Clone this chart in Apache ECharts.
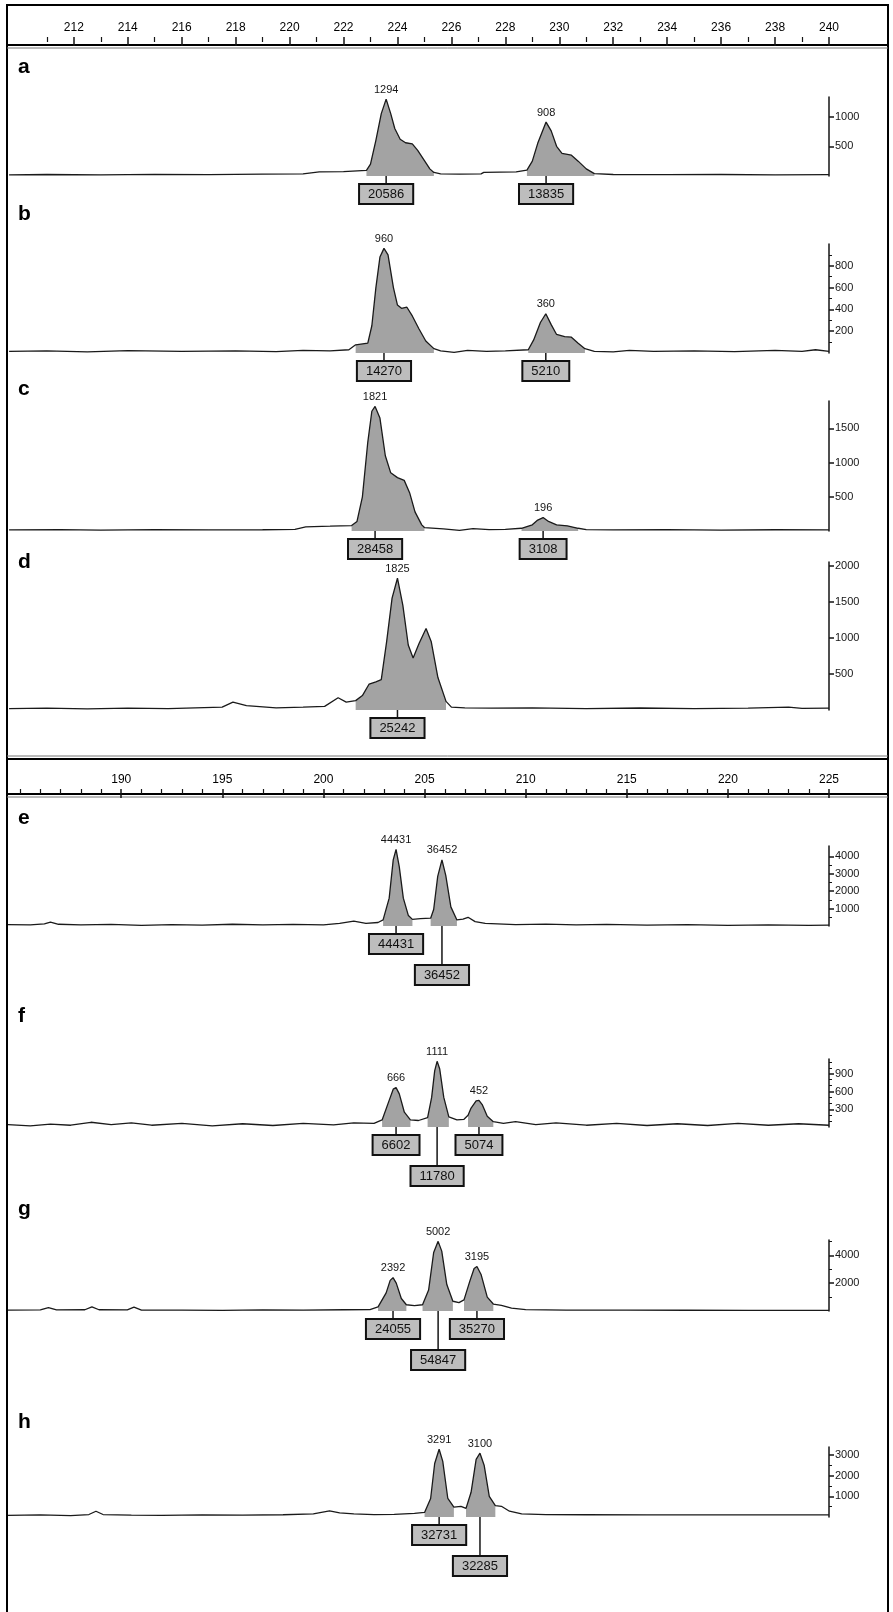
<!DOCTYPE html>
<html>
<head>
<meta charset="utf-8">
<script src="https://cdn.jsdelivr.net/npm/echarts@6/dist/echarts.min.js"></script>
<style>
  html, body { margin: 0; padding: 0; background: #fff; }
  #chart { width: 893px; height: 1612px; }
</style>
</head>
<body>
<div id="chart"></div>
<script>
// ruler ticks (size in bp)
const rulerTopLabels = [212, 214, 216, 218, 220, 222, 224, 226, 228, 230, 232, 234, 236, 238, 240];
const rulerTopMinor = [211, 213, 215, 217, 219, 221, 223, 225, 227, 229, 231, 233, 235, 237, 239];
const rulerBottomLabels = [190, 195, 200, 205, 210, 215, 220, 225];
const rulerBottomMinor = [185, 186, 187, 188, 189, 191, 192, 193, 194, 196, 197, 198, 199, 201, 202, 203, 204,
  206, 207, 208, 209, 211, 212, 213, 214, 216, 217, 218, 219, 221, 222, 223, 224];
const sectionRange = [[209.56, 240], [184.4, 225]];

// panel a
const traceA = [[209.6, 20], [211, 25], [213, 20], [215, 28], [217, 22], [219, 30], [220.5, 35], [221.1, 70], [222, 75],
  [222.85, 95], [223.0, 200], [223.2, 600], [223.4, 1050], [223.58, 1294], [223.75, 1050], [223.9, 800], [224.1, 620],
  [224.3, 560], [224.55, 540], [224.75, 430], [225.0, 260], [225.2, 120], [225.35, 60], [225.6, 35], [226.3, 30],
  [227.1, 35], [227.2, 60], [228.4, 70], [228.8, 100], [229.0, 250], [229.2, 550], [229.51, 908], [229.7, 760],
  [229.9, 500], [230.1, 380], [230.45, 350], [230.7, 250], [231.0, 120], [231.3, 40], [232, 25], [234, 22], [236, 25],
  [238, 20], [240, 22]];
const regionsA = [[222.85, 225.35], [228.8, 231.3]];
const peaksA = [[223.58, 1294, '1294'], [229.51, 908, '908']];
const boxesA = [[223.58, '20586', 0], [229.51, '13835', 0]];
const yMajorA = [500, 1000];
const yMinorA = [];

// panel b
const traceB = [[209.6, 15], [211, 20], [212.5, 10], [214, 22], [216, 15], [218, 20], [219.5, 12], [220.5, 25], [221.5, 20],
  [222.2, 30], [222.45, 75], [222.9, 90], [223.05, 250], [223.2, 600], [223.35, 880], [223.5, 960], [223.65, 900],
  [223.85, 600], [224.0, 440], [224.15, 410], [224.35, 420], [224.55, 340], [224.8, 220], [225.05, 110], [225.35, 40],
  [225.6, 20], [226.1, 5], [226.6, 25], [227.3, 15], [228.0, 20], [228.85, 30], [229.05, 120], [229.3, 280], [229.5, 360],
  [229.7, 260], [229.9, 170], [230.2, 150], [230.45, 145], [230.7, 90], [230.95, 40], [231.3, 15], [232, 10],
  [232.6, 25], [233.5, 15], [235, 20], [236.5, 12], [238, 25], [239, 15], [239.5, 30], [240, 15]];
const regionsB = [[222.45, 225.35], [228.85, 230.95]];
const peaksB = [[223.5, 960, '960'], [229.5, 360, '360']];
const boxesB = [[223.5, '14270', 0], [229.5, '5210', 0]];
const yMajorB = [200, 400, 600, 800];
const yMinorB = [100, 300, 500, 700, 900];

// panel c
const traceC = [[209.6, 15], [211.5, 20], [213, 12], [215, 20], [217, 15], [219, 18], [220.2, 25], [220.6, 60], [221.5, 70],
  [222.3, 80], [222.5, 140], [222.7, 500], [222.9, 1300], [223.05, 1750], [223.17, 1821], [223.35, 1650], [223.55, 1100],
  [223.75, 850], [224.0, 780], [224.25, 740], [224.45, 560], [224.65, 280], [224.9, 90], [225.0, 50], [225.7, 30],
  [226.3, 10], [226.8, 35], [227.4, 20], [228.0, 25], [228.6, 40], [229.0, 90], [229.2, 160], [229.4, 196],
  [229.6, 140], [229.9, 90], [230.3, 75], [230.7, 40], [231.0, 20], [232, 15], [234, 20], [236, 12], [238, 18], [240, 15]];
const regionsC = [[222.3, 225.0], [228.6, 230.7]];
const peaksC = [[223.17, 1821, '1821'], [229.4, 196, '196']];
const boxesC = [[223.17, '28458', 0], [229.4, '3108', 0]];
const yMajorC = [500, 1000, 1500];
const yMinorC = [];

// panel d
const traceD = [[209.6, 20], [211, 25], [212.5, 15], [214, 25], [215.5, 20], [217.5, 40], [217.9, 110], [218.4, 60],
  [219.5, 30], [220.5, 40], [221.3, 50], [221.8, 170], [222.1, 110], [222.45, 130], [222.7, 200], [222.95, 360],
  [223.2, 390], [223.4, 420], [223.6, 950], [223.8, 1550], [224.0, 1825], [224.2, 1450], [224.4, 900], [224.58, 720],
  [224.8, 920], [225.06, 1130], [225.25, 950], [225.5, 450], [225.8, 120], [226.0, 40], [226.5, 30], [227.5, 25],
  [229, 30], [231, 20], [233, 28], [235, 20], [237, 25], [238.5, 40], [239, 22], [240, 25]];
const regionsD = [[222.45, 225.8]];
const peaksD = [[224.0, 1825, '1825']];
const boxesD = [[224.0, '25242', 0]];
const yMajorD = [500, 1000, 1500, 2000];
const yMinorD = [];

// panel e
const traceE = [[184.4, 80], [185.5, 60], [186.2, 120], [186.5, 220], [186.9, 100], [188, 60], [189.5, 90], [191, 40],
  [192.5, 80], [194, 50], [195.5, 100], [197, 60], [198.5, 90], [200, 70], [200.8, 150], [201.5, 280], [202.1, 150],
  [202.7, 200], [202.95, 350], [203.25, 1600], [203.45, 3800], [203.59, 4400], [203.75, 3400], [203.95, 1600],
  [204.2, 600], [204.4, 380], [204.8, 420], [205.3, 450], [205.45, 950], [205.65, 2850], [205.86, 3800], [206.05, 2900],
  [206.3, 1100], [206.6, 350], [206.9, 400], [207.15, 500], [207.5, 250], [208, 150], [209.5, 80], [211, 110],
  [212.5, 60], [214, 90], [216, 50], [218, 80], [220, 40], [222, 60], [224, 40], [225, 50]];
const regionsE = [[202.95, 204.4], [205.3, 206.6]];
const peaksE = [[203.59, 4400, '44431'], [205.86, 3800, '36452']];
const boxesE = [[203.59, '44431', 0], [205.86, '36452', 1]];
const yMajorE = [1000, 2000, 3000, 4000];
const yMinorE = [500, 1500, 2500, 3500];

// panel f
const traceF = [[184.4, 40], [185.5, 20], [186.5, 50], [187.5, 30], [188.5, 80], [189.5, 40], [190.5, 70], [191.5, 30],
  [193, 60], [194.5, 20], [196, 55], [197.5, 25], [199, 60], [200.5, 35], [201.5, 70], [202.5, 60], [202.9, 120],
  [203.25, 450], [203.45, 640], [203.59, 666], [203.75, 560], [204.0, 250], [204.3, 120], [204.7, 110], [205.15, 160],
  [205.35, 500], [205.5, 950], [205.62, 1111], [205.75, 980], [205.95, 500], [206.2, 170], [206.6, 120], [206.95, 130],
  [207.15, 200], [207.3, 320], [207.55, 440], [207.69, 452], [207.85, 380], [208.1, 180], [208.4, 90], [208.9, 60],
  [209.5, 90], [210.5, 40], [211.5, 70], [213, 30], [214.5, 60], [216, 25], [217.5, 55], [219, 25], [220.5, 60],
  [222, 30], [223.5, 55], [225, 30]];
const regionsF = [[202.9, 204.3], [205.15, 206.2], [207.15, 208.4]];
const peaksF = [[203.59, 666, '666'], [205.62, 1111, '1111'], [207.69, 452, '452']];
const boxesF = [[203.59, '6602', 0], [205.62, '11780', 1], [207.69, '5074', 0]];
const yMajorF = [300, 600, 900];
const yMinorF = [100, 200, 400, 500, 700, 800, 1000, 1100];

// panel g
const traceG = [[184.4, 60], [186, 80], [186.4, 250], [186.8, 80], [188.2, 90], [188.55, 300], [188.9, 90], [190.3, 80],
  [190.63, 280], [191, 70], [193, 60], [195, 50], [197, 80], [199, 60], [201, 90], [202.3, 100], [202.7, 300],
  [203.1, 1300], [203.3, 2200], [203.44, 2392], [203.6, 2000], [203.85, 900], [204.1, 450], [204.5, 380], [204.9, 450],
  [205.2, 1500], [205.45, 4200], [205.67, 5002], [205.85, 4300], [206.1, 1900], [206.4, 700], [206.7, 600], [206.95, 800],
  [207.25, 2200], [207.45, 3050], [207.59, 3195], [207.8, 2600], [208.1, 1000], [208.4, 500], [208.8, 400], [209.3, 200],
  [210, 100], [212, 60], [215, 60], [218, 55], [221, 50], [225, 50]];
const regionsG = [[202.7, 204.1], [204.9, 206.4], [206.95, 208.4]];
const peaksG = [[203.44, 2392, '2392'], [205.67, 5002, '5002'], [207.59, 3195, '3195']];
const boxesG = [[203.44, '24055', 0], [205.67, '54847', 1], [207.59, '35270', 0]];
const yMajorG = [2000, 4000];
const yMinorG = [1000, 3000, 5000];

// panel h
const traceH = [[184.4, 80], [186, 100], [187.5, 70], [188.4, 120], [188.75, 280], [189.1, 120], [190.5, 90], [192, 80],
  [194, 100], [196, 90], [198, 110], [199.5, 150], [200.3, 300], [200.8, 200], [201.5, 150], [202.5, 120], [203.5, 130],
  [204.5, 180], [205.0, 220], [205.3, 900], [205.5, 2600], [205.72, 3291], [205.9, 2700], [206.15, 900], [206.45, 480],
  [206.8, 520], [207.05, 420], [207.3, 1200], [207.55, 2800], [207.74, 3100], [207.95, 2500], [208.2, 1000], [208.5, 550],
  [208.8, 520], [209.2, 280], [209.8, 150], [211, 120], [213, 110], [216, 100], [220, 100], [225, 100]];
const regionsH = [[205.0, 206.45], [207.05, 208.5]];
const peaksH = [[205.72, 3291, '3291'], [207.74, 3100, '3100']];
const boxesH = [[205.72, '32731', 0], [207.74, '32285', 1]];
const yMajorH = [1000, 2000, 3000];
const yMinorH = [500, 1500, 2500];

const panels = [
  { name: 'a', section: 0, top: 97, bottom: 176, max: 1330, letterY: 68, trace: traceA, regions: regionsA, peaks: peaksA, boxes: boxesA, yMajor: yMajorA, yMinor: yMinorA },
  { name: 'b', section: 0, top: 244, bottom: 353, max: 1000, letterY: 215, trace: traceB, regions: regionsB, peaks: peaksB, boxes: boxesB, yMajor: yMajorB, yMinor: yMinorB },
  { name: 'c', section: 0, top: 401, bottom: 531, max: 1900, letterY: 390, trace: traceC, regions: regionsC, peaks: peaksC, boxes: boxesC, yMajor: yMajorC, yMinor: yMinorC },
  { name: 'd', section: 0, top: 562, bottom: 710, max: 2050, letterY: 563, trace: traceD, regions: regionsD, peaks: peaksD, boxes: boxesD, yMajor: yMajorD, yMinor: yMinorD },
  { name: 'e', section: 1, top: 846, bottom: 926, max: 4600, letterY: 819, trace: traceE, regions: regionsE, peaks: peaksE, boxes: boxesE, yMajor: yMajorE, yMinor: yMinorE },
  { name: 'f', section: 1, top: 1059, bottom: 1127, max: 1150, letterY: 1017, trace: traceF, regions: regionsF, peaks: peaksF, boxes: boxesF, yMajor: yMajorF, yMinor: yMinorF },
  { name: 'g', section: 1, top: 1240, bottom: 1311, max: 5100, letterY: 1210, trace: traceG, regions: regionsG, peaks: peaksG, boxes: boxesG, yMajor: yMajorG, yMinor: yMinorG },
  { name: 'h', section: 1, top: 1447, bottom: 1517, max: 3400, letterY: 1423, trace: traceH, regions: regionsH, peaks: peaksH, boxes: boxesH, yMajor: yMajorH, yMinor: yMinorH }
];

const FONT = '"Liberation Sans", Arial, sans-serif';
const INK = '#151515';
const grids = [], xAxes = [], yAxes = [], series = [], graphics = [];
const plain = v => String(v);

// one grid per axis pair; minor ticks get their own overlapping grid,
// otherwise echarts flips a second axis on the same side to the other side
function addGrid(top, height) {
  grids.push({ left: 8, right: 64, top: top, height: height, show: false });
  return grids.length - 1;
}

function addRuler(sec, top, labels, minor) {
  const [min, max] = sectionRange[sec];
  let gi = addGrid(top, 30);
  xAxes.push({
    gridIndex: gi, type: 'value', position: 'top', min, max,
    axisLine: { show: false },
    axisTick: { show: true, inside: true, length: 9, customValues: labels, lineStyle: { color: INK, width: 1.5 } },
    axisLabel: { show: true, inside: true, margin: 15, customValues: labels, formatter: plain, fontSize: 12, color: '#000', fontFamily: FONT },
    splitLine: { show: false }
  });
  yAxes.push({ gridIndex: gi, type: 'value', show: false, min: 0, max: 1 });
  gi = addGrid(top, 30);
  xAxes.push({
    gridIndex: gi, type: 'value', position: 'top', min, max,
    axisLine: { show: false },
    axisTick: { show: true, inside: true, length: 5, customValues: minor, lineStyle: { color: INK, width: 1.2 } },
    axisLabel: { show: false },
    splitLine: { show: false }
  });
  yAxes.push({ gridIndex: gi, type: 'value', show: false, min: 0, max: 1 });
}

addRuler(0, 7, rulerTopLabels, rulerTopMinor);
addRuler(1, 759, rulerBottomLabels, rulerBottomMinor);

panels.forEach(p => {
  const [min, max] = sectionRange[p.section];
  const h = p.bottom - p.top;

  // minor ticks only
  if (p.yMinor.length) {
    const mg = addGrid(p.top, h);
    xAxes.push({ gridIndex: mg, type: 'value', min, max, show: false });
    yAxes.push({
      gridIndex: mg, type: 'value', position: 'right', min: 0, max: p.max,
      axisLine: { show: false },
      axisTick: { show: true, length: 3, customValues: p.yMinor, lineStyle: { color: INK, width: 1 } },
      axisLabel: { show: false },
      splitLine: { show: false }
    });
  }

  const gi = addGrid(p.top, h);
  const xi = xAxes.length;
  xAxes.push({ gridIndex: gi, type: 'value', min, max, show: false });
  const yi = yAxes.length;
  yAxes.push({
    gridIndex: gi, type: 'value', position: 'right', min: 0, max: p.max,
    axisLine: { show: true, lineStyle: { color: INK, width: 1.5 } },
    axisTick: { show: true, length: 5, customValues: p.yMajor, lineStyle: { color: INK, width: 1.5 } },
    axisLabel: { show: true, margin: 6, customValues: p.yMajor, formatter: plain, fontSize: 11, color: INK, fontFamily: FONT },
    splitLine: { show: false }
  });

  // called peak areas, grey fill
  p.regions.forEach(r => {
    series.push({
      type: 'line', xAxisIndex: xi, yAxisIndex: yi, symbol: 'none', silent: true, z: 2,
      data: p.trace.filter(d => d[0] >= r[0] && d[0] <= r[1]),
      lineStyle: { width: 0 },
      areaStyle: { color: '#a3a3a3', opacity: 1 }
    });
  });

  // the trace itself
  series.push({
    type: 'line', xAxisIndex: xi, yAxisIndex: yi, symbol: 'none', silent: true, z: 3,
    data: p.trace,
    lineStyle: { color: '#1a1a1a', width: 1.3 }
  });

  // peak height labels
  series.push({
    type: 'custom', xAxisIndex: xi, yAxisIndex: yi, silent: true, z: 5,
    data: p.peaks.map(k => [k[0], k[1]]),
    renderItem: (params, api) => {
      const k = p.peaks[params.dataIndex];
      const pt = api.coord([k[0], k[1]]);
      return {
        type: 'text', x: pt[0], y: pt[1] - 4,
        style: { text: k[2], align: 'center', verticalAlign: 'bottom', fontSize: 11, fontFamily: FONT, fill: INK }
      };
    }
  });

  // boxed area values under the peaks
  series.push({
    type: 'custom', xAxisIndex: xi, yAxisIndex: yi, silent: true, z: 6,
    data: p.boxes.map(b => [b[0], 0]),
    renderItem: (params, api) => {
      const b = p.boxes[params.dataIndex];
      const pt = api.coord([b[0], 0]);
      const drop = b[2] ? 40 : 9;
      return {
        type: 'group',
        children: [
          { type: 'line', shape: { x1: pt[0], y1: pt[1], x2: pt[0], y2: pt[1] + drop }, style: { stroke: INK, lineWidth: 1.5 } },
          {
            type: 'text', x: pt[0], y: pt[1] + drop,
            style: {
              text: b[1], align: 'center', verticalAlign: 'top', fontSize: 13, fontFamily: FONT, fill: '#111',
              backgroundColor: '#bdbdbd', borderColor: '#111', borderWidth: 2, padding: [3, 8, 2, 8]
            }
          }
        ]
      };
    }
  });

  graphics.push({
    type: 'text', left: 18, top: p.letterY - 11,
    style: { text: p.name, fontSize: 21, fontWeight: 'bold', fontFamily: FONT, fill: '#000' }
  });
});

// frame and the double rules of the two ruler strips
graphics.push(
  { type: 'rect', shape: { x: 7, y: 5, width: 881, height: 1700 }, style: { fill: 'none', stroke: '#000', lineWidth: 2 } },
  { type: 'line', shape: { x1: 7, y1: 45, x2: 888, y2: 45 }, style: { stroke: '#000', lineWidth: 2 } },
  { type: 'line', shape: { x1: 7, y1: 48, x2: 888, y2: 48 }, style: { stroke: '#777', lineWidth: 1 } },
  { type: 'line', shape: { x1: 7, y1: 756, x2: 888, y2: 756 }, style: { stroke: '#777', lineWidth: 1 } },
  { type: 'line', shape: { x1: 7, y1: 759, x2: 888, y2: 759 }, style: { stroke: '#000', lineWidth: 2 } },
  { type: 'line', shape: { x1: 7, y1: 794, x2: 888, y2: 794 }, style: { stroke: '#000', lineWidth: 2 } },
  { type: 'line', shape: { x1: 7, y1: 797, x2: 888, y2: 797 }, style: { stroke: '#777', lineWidth: 1 } }
);

const chart = echarts.init(document.getElementById('chart'));
chart.setOption({
  animation: false,
  backgroundColor: '#fff',
  grid: grids,
  xAxis: xAxes,
  yAxis: yAxes,
  series: series,
  graphic: graphics
});
</script>
</body>
</html>
